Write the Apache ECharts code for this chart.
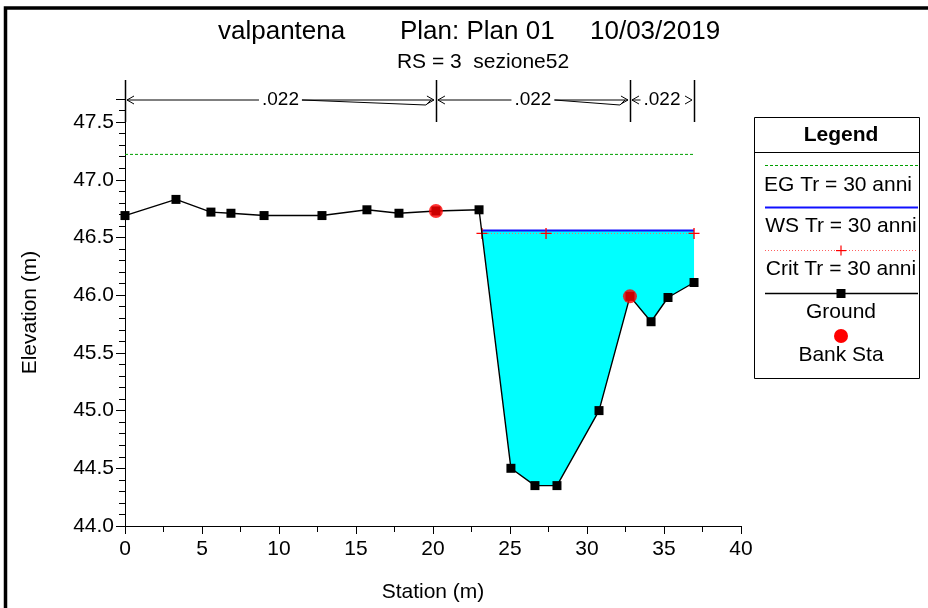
<!DOCTYPE html>
<html>
<head>
<meta charset="utf-8">
<script src="https://cdn.jsdelivr.net/npm/echarts@6/dist/echarts.min.js"></script>
<style>
  html, body { margin: 0; padding: 0; background: #fff; }
  #main { width: 928px; height: 608px; }
</style>
</head>
<body>
<div id="main"></div>
<script>
// Cross section geometry (station m, elevation m)
const groundStation = [0, 3.31, 5.58, 6.88, 9.03, 12.79, 15.71, 17.79, 20.19, 22.99, 25.06, 26.62, 28.05, 30.78, 32.79, 34.16, 35.26, 36.95];
const groundElev    = [46.69, 46.83, 46.72, 46.71, 46.69, 46.69, 46.74, 46.71, 46.73, 46.74, 44.50, 44.35, 44.35, 45.00, 45.99, 45.77, 45.98, 46.11];

// Bank stations
const bankStation = [20.19, 32.79];
const bankElev    = [46.73, 45.99];

// Profiles for Tr = 30 anni
const egElev = 47.22;
const egExtent = [0, 36.95];
const wsElev = 46.56;
const wsExtent = [23.17, 36.95];
const critElev = 46.535;
const critStation = [23.18, 27.34, 36.95];

// Manning's n regions
const nBounds = [0, 20.19, 32.79, 36.95];
const nValues = ['.022', '.022', '.022'];

// Axis ticks
const xTicks = { min: 0, max: 40, step: 5 };
const yTicks = { min: 44, max: 47.7, step: 0.5, minor: 0.1 };

const FONT = '"Liberation Sans", Arial, sans-serif';

// Water area polygon: surface line on top, ground profile underneath
const waterPoly = [[wsExtent[0], wsElev], [wsExtent[1], wsElev]];
for (let i = groundStation.length - 1; i >= 0; i--) {
  if (groundStation[i] > wsExtent[0] && groundStation[i] <= wsExtent[1]) {
    waterPoly.push([groundStation[i], groundElev[i]]);
  }
}

const chart = echarts.init(document.getElementById('main'), null, { renderer: 'canvas' });

const isMajor = v => Math.abs(v / yTicks.step - Math.round(v / yTicks.step)) < 1e-6;

const option = {
  animation: false,
  backgroundColor: '#ffffff',
  grid: { left: 125, right: 187, top: 99, bottom: 82, containLabel: false },
  xAxis: {
    type: 'value', min: xTicks.min, max: xTicks.max, interval: xTicks.step,
    name: 'Station (m)', nameLocation: 'middle', nameGap: 56,
    nameTextStyle: { color: '#000', fontSize: 21, fontFamily: FONT },
    axisLine: { lineStyle: { color: '#000', width: 1 } },
    axisTick: { show: true, length: 8, lineStyle: { color: '#000' } },
    minorTick: { show: true, splitNumber: 2, length: 6, lineStyle: { color: '#000' } },
    splitLine: { show: false },
    axisLabel: { color: '#000', fontSize: 21, fontFamily: FONT, margin: 13 }
  },
  yAxis: [{
    type: 'value', min: yTicks.min, max: yTicks.max, interval: yTicks.minor,
    name: 'Elevation (m)', nameLocation: 'middle', nameGap: 84, nameRotate: 90,
    nameTextStyle: { color: '#000', fontSize: 21, fontFamily: FONT },
    axisLine: { show: true, lineStyle: { color: '#000', width: 1 } },
    axisTick: { show: true, length: 6, lineStyle: { color: '#000' } },
    splitLine: { show: false },
    axisLabel: {
      color: '#000', fontSize: 21, fontFamily: FONT, margin: 11,
      formatter: v => isMajor(v) ? v.toFixed(1) : ''
    }
  }, {
    type: 'value', min: yTicks.min, max: yTicks.max, interval: yTicks.step,
    position: 'left', alignTicks: false,
    axisLine: { show: false },
    axisTick: { show: true, length: 9, lineStyle: { color: '#000' } },
    splitLine: { show: false },
    axisLabel: { show: false }
  }],
  series: [
    {
      name: 'water', type: 'custom', z: 1, silent: true,
      data: [0],
      renderItem: (params, api) => {
        const pts = waterPoly.map(p => api.coord(p));
        return { type: 'polygon', shape: { points: pts }, style: { fill: '#00ffff', stroke: null } };
      }
    },
    {
      name: 'EG Tr = 30 anni', type: 'line', z: 3, symbol: 'none',
      data: egExtent.map(s => [s, egElev]),
      lineStyle: { color: '#00a000', width: 1, type: [3, 2] }
    },
    {
      name: 'WS Tr = 30 anni', type: 'line', z: 3, symbol: 'none',
      data: wsExtent.map(s => [s, wsElev]),
      lineStyle: { color: '#1010ff', width: 2 }
    },
    {
      name: 'Crit Tr = 30 anni', type: 'line', z: 4,
      symbol: 'path://M0,4.4h10v1.2h-10zM4.4,0h1.2v10h-1.2z', symbolSize: 11,
      data: critStation.map(s => [s, critElev]),
      itemStyle: { color: '#ff0000' },
      lineStyle: { color: '#ff6060', width: 1, type: [1, 2] }
    },
    {
      name: 'Ground', type: 'line', z: 5,
      symbol: 'rect', symbolSize: 9,
      data: groundStation.map((s, i) => [s, groundElev[i]]),
      itemStyle: { color: '#000' },
      lineStyle: { color: '#000', width: 1.4 }
    },
    {
      name: 'Bank Sta', type: 'scatter', z: 6,
      symbol: 'circle', symbolSize: 14,
      data: bankStation.map((s, i) => [s, bankElev[i]]),
      itemStyle: { color: '#ff0000' }
    }
  ]
};

chart.setOption(option);

// --- Overlays: frame, titles, n-value arrows, legend box ---
const measureCtx = document.createElement('canvas').getContext('2d');
function textWidth(str, size) {
  measureCtx.font = size + 'px ' + FONT;
  return measureCtx.measureText(str).width;
}
const black = { stroke: '#000', lineWidth: 1, fill: null };
const g = [];

// Outer frame
g.push({ type: 'rect', shape: { x: 5.5, y: 8, width: 1000, height: 1000 }, style: { stroke: '#000', lineWidth: 3.5, fill: null } });

// Titles
const titleY = 32;
const titleFont = '26px ' + FONT;
g.push({ type: 'text', x: 218, y: titleY, style: { text: 'valpantena', font: titleFont, fill: '#000', verticalAlign: 'middle' } });
g.push({ type: 'text', x: 400, y: titleY, style: { text: 'Plan: Plan 01', font: titleFont, fill: '#000', verticalAlign: 'middle' } });
g.push({ type: 'text', x: 590, y: titleY, style: { text: '10/03/2019', font: titleFont, fill: '#000', verticalAlign: 'middle' } });
g.push({ type: 'text', x: 483, y: 62, style: { text: 'RS = 3  sezione52', font: '21px ' + FONT, fill: '#000', align: 'center', verticalAlign: 'middle' } });

// Manning's n arrows
const arrowY = 100, barTop = 80, barBot = 122, nFont = 19;
const px = s => chart.convertToPixel({ xAxisIndex: 0 }, s);
nBounds.forEach(b => {
  const x = Math.round(px(b)) + 0.5;
  g.push({ type: 'line', shape: { x1: x, y1: barTop, x2: x, y2: barBot }, style: { stroke: '#000', lineWidth: 1.5 } });
});
nValues.forEach((label, i) => {
  const xa = px(nBounds[i]) + 1, xb = px(nBounds[i + 1]) - 1;
  const xc = (xa + xb) / 2;
  const w = textWidth(label, nFont);
  const tl = xc - w / 2 - 3, tr = xc + w / 2 + 3;
  g.push({ type: 'text', x: xc, y: arrowY, style: { text: label, font: nFont + 'px ' + FONT, fill: '#000', align: 'center', verticalAlign: 'middle' } });
  // left arrow
  g.push({ type: 'polyline', shape: { points: [[xa + 8, arrowY - 4], [xa + 1, arrowY], [xa + 8, arrowY + 4]] }, style: black });
  if (tl > xa + 2) g.push({ type: 'line', shape: { x1: xa + 1, y1: arrowY, x2: tl, y2: arrowY }, style: black });
  // right arrow with wedge
  g.push({ type: 'polyline', shape: { points: [[xb - 8, arrowY - 4], [xb - 1, arrowY], [xb - 8, arrowY + 4]] }, style: black });
  if (xb - tr > 14) {
    g.push({ type: 'line', shape: { x1: tr, y1: arrowY, x2: xb - 1, y2: arrowY }, style: black });
    g.push({ type: 'polyline', shape: { points: [[tr, arrowY], [xb - 9, arrowY + 5], [xb - 4, arrowY]] }, style: black });
  }
});

// Legend box
const lx = 754, ly = 117, lw = 165, lh = 261, lc = 841;
const legendFont = '21px ' + FONT;
g.push({ type: 'rect', shape: { x: lx + 0.5, y: ly + 0.5, width: lw, height: lh }, style: { stroke: '#000', lineWidth: 1, fill: '#fff' }, z: 10 });
g.push({ type: 'text', x: lc, y: 135, z: 11, style: { text: 'Legend', font: 'bold 21px ' + FONT, fill: '#000', align: 'center', verticalAlign: 'middle' } });
g.push({ type: 'line', z: 11, shape: { x1: lx, y1: 152.5, x2: lx + lw, y2: 152.5 }, style: black });
const l1 = lx + 11, l2 = lx + lw - 1;
// EG
g.push({ type: 'line', z: 11, shape: { x1: l1, y1: 165.5, x2: l2, y2: 165.5 }, style: { stroke: '#00a000', lineWidth: 1, lineDash: [3, 2] } });
g.push({ type: 'text', x: lc - 3, y: 185, z: 11, style: { text: 'EG Tr = 30 anni', font: legendFont, fill: '#000', align: 'center', verticalAlign: 'middle' } });
// WS
g.push({ type: 'line', z: 11, shape: { x1: l1, y1: 207.5, x2: l2, y2: 207.5 }, style: { stroke: '#1010ff', lineWidth: 2 } });
g.push({ type: 'text', x: lc, y: 226, z: 11, style: { text: 'WS Tr = 30 anni', font: legendFont, fill: '#000', align: 'center', verticalAlign: 'middle' } });
// Crit
g.push({ type: 'line', z: 11, shape: { x1: l1, y1: 250.5, x2: l2, y2: 250.5 }, style: { stroke: '#ff6060', lineWidth: 1, lineDash: [1, 2] } });
g.push({ type: 'rect', z: 12, shape: { x: 836, y: 250, width: 10, height: 1.2 }, style: { fill: '#ff0000' } });
g.push({ type: 'rect', z: 12, shape: { x: 840.4, y: 245.6, width: 1.2, height: 10 }, style: { fill: '#ff0000' } });
g.push({ type: 'text', x: lc, y: 269, z: 11, style: { text: 'Crit Tr = 30 anni', font: legendFont, fill: '#000', align: 'center', verticalAlign: 'middle' } });
// Ground
g.push({ type: 'line', z: 11, shape: { x1: l1, y1: 293.5, x2: l2, y2: 293.5 }, style: { stroke: '#000', lineWidth: 1.4 } });
g.push({ type: 'rect', z: 12, shape: { x: 836.5, y: 289, width: 9, height: 9 }, style: { fill: '#000' } });
g.push({ type: 'text', x: lc, y: 312, z: 11, style: { text: 'Ground', font: legendFont, fill: '#000', align: 'center', verticalAlign: 'middle' } });
// Bank Sta
g.push({ type: 'circle', z: 12, shape: { cx: 841, cy: 336, r: 7 }, style: { fill: '#ff0000' } });
g.push({ type: 'text', x: lc, y: 355, z: 11, style: { text: 'Bank Sta', font: legendFont, fill: '#000', align: 'center', verticalAlign: 'middle' } });

chart.setOption({ graphic: g.map(e => Object.assign({ silent: true }, e)) });
</script>
</body>
</html>
